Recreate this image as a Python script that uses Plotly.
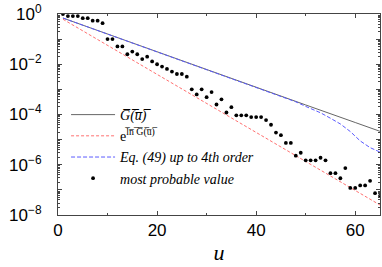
import plotly.graph_objects as go

# most probable value (dots)
u_mp = list(range(1, 66))
mp_vals = [1.0, 0.83, 0.83, 0.83, 0.68, 0.68, 0.54, 0.54, 0.43, 0.1,
           0.1, 0.051, 0.051, 0.025, 0.032, 0.025, 0.016, 0.02, 0.013, 0.01,
           0.0081, 0.0065, 0.0051, 0.0041, 0.0041, 0.0032, 0.001, 6.3e-4, 0.001, 4.9e-4,
           7.8e-4, 2.5e-4, 4.0e-4, 1.2e-4, 1.95e-4, 9.3e-5, 9.3e-5, 9.3e-5, 7.9e-5, 7.9e-5,
           7.9e-5, 6.0e-5, 3.9e-5, 1.9e-5, 1.5e-5, 7.4e-6, 7.4e-6, 2.3e-6, 3.0e-6, 1.5e-6,
           1.5e-6, 1.5e-6, 1.9e-6, 1.5e-6, 4.6e-7, 4.6e-7, 2.9e-7, 7.4e-7, 1.2e-7, 1.2e-7,
           1.5e-7, 1.5e-7, 2.3e-7, 7.4e-8, 5.8e-8]

# mean G(u) (solid gray)
u_g = [1, 10, 20, 30, 40, 50, 60, 65]
g_vals = [0.69, 0.158, 0.0316, 0.00617, 0.00123, 2.4e-4, 4.8e-5, 2.14e-5]

# exp(<ln G>) (red dashed)
u_r = [1, 20, 40, 65]
r_vals = [0.62, 4.0e-3, 1.95e-5, 2.5e-8]

# Eq. (49) up to 4th order (blue dashed)
u_b = [1, 10, 20, 30, 40, 45, 48, 50, 53, 55, 57, 59, 61, 63, 65]
b_vals = [0.69, 0.158, 0.0316, 0.00617, 0.00123, 5.4e-4, 3.2e-4, 2.1e-4, 1.17e-4,
          7.1e-5, 4.2e-5, 2.1e-5, 8.9e-6, 4.8e-6, 3.2e-6]

x_ticks = [0, 20, 40, 60]
y_tickvals = [1, 1e-1, 1e-2, 1e-3, 1e-4, 1e-5, 1e-6, 1e-7, 1e-8]
y_ticktext = ["10<sup>0</sup>", "", "10<sup>\u22122</sup>", "", "10<sup>\u22124</sup>", "",
              "10<sup>\u22126</sup>", "", "10<sup>\u22128</sup>"]

OL = "\u0305"
name_g = "<i>G" + OL + "(" + OL + "u" + OL + ")" + OL + "</i>"
name_r = "e<sup>" + "".join(c + OL for c in "ln G(u)") + "</sup>"
name_b = "<i>Eq. (49) up to 4th order</i>"
name_d = "<i>most probable value</i>"

fig = go.Figure()
fig.add_trace(go.Scatter(x=u_g, y=g_vals, mode="lines", name=name_g,
                         line=dict(color="#666666", width=1)))
fig.add_trace(go.Scatter(x=u_r, y=r_vals, mode="lines", name=name_r,
                         line=dict(color="#ff7070", width=1, dash="3px,2px")))
fig.add_trace(go.Scatter(x=u_b, y=b_vals, mode="lines", name=name_b,
                         line=dict(color="#5b5bff", width=1, dash="4px,2px")))
fig.add_trace(go.Scatter(x=u_mp, y=mp_vals, mode="markers", name=name_d,
                         marker=dict(color="black", size=3.8)))

axis_common = dict(showline=True, linecolor="#444444", linewidth=1, mirror="allticks",
                   ticks="inside", tickcolor="#444444", showgrid=False, zeroline=False,
                   automargin=False)

fig.update_xaxes(range=[0, 65], tickvals=x_ticks, ticklen=4,
                 tickfont=dict(family="Liberation Sans, Arial", size=17, color="black"),
                 minor=dict(dtick=10, tick0=0, ticks="inside", ticklen=2, tickcolor="#444444"),
                 title=dict(text="<i>u</i>", font=dict(family="Liberation Serif", size=22, color="black"),
                            standoff=5),
                 **axis_common)
fig.update_yaxes(type="log", range=[-8, 0], tickvals=y_tickvals, ticktext=y_ticktext, ticklen=4,
                 tickfont=dict(family="Liberation Sans, Arial", size=17, color="black"),
                 ticklabelstandoff=12,
                 minor=dict(dtick="D1", ticks="inside", ticklen=2, tickcolor="#444444"),
                 **axis_common)

fig.update_layout(
    width=382, height=267,
    margin=dict(l=58, r=2, t=14, b=52),
    paper_bgcolor="white", plot_bgcolor="white",
    showlegend=True,
    legend=dict(x=0.025, y=0.577, xanchor="left", yanchor="top",
                bgcolor="rgba(0,0,0,0)", itemwidth=44,
                font=dict(family="Liberation Serif", size=14, color="black"),
                tracegroupgap=0),
)

fig.write_html("out.html", config={"displayModeBar": False},
               post_script="document.body.style.margin='0';document.body.style.overflow='hidden';")
